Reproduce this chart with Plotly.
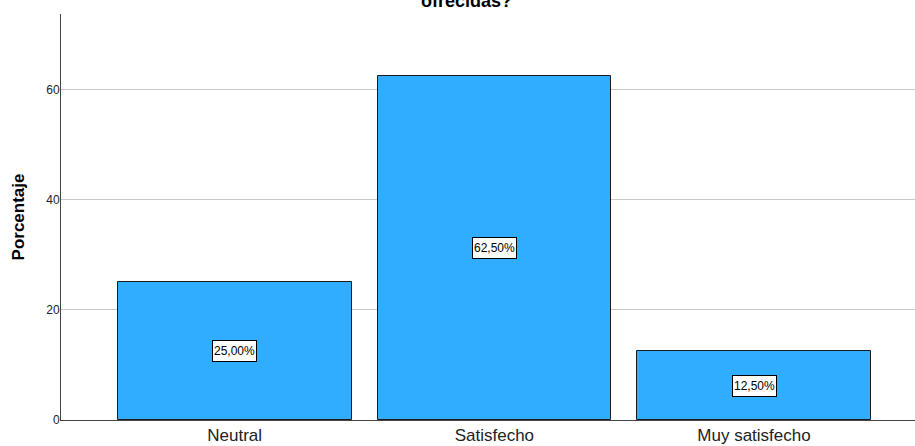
import plotly.graph_objects as go

categories = ["Neutral", "Satisfecho", "Muy satisfecho"]
percentages = [25.0, 62.5, 12.5]
y_ticks = [0, 20, 40, 60]

bar_color = "#31ADFF"

fig = go.Figure()
fig.add_trace(go.Bar(
    x=list(range(len(categories))),
    y=percentages,
    width=0.9,
    marker=dict(color=bar_color, line=dict(color="#1a1a1a", width=1)),
    hoverinfo="skip",
))

# boxed value labels at the middle of each bar
for i, v in enumerate(percentages):
    fig.add_annotation(
        x=i, y=v / 2, xref="x", yref="y",
        text=f"{v:.2f}%".replace(".", ","),
        showarrow=False,
        font=dict(family="Arial", size=12, color="black"),
        width=41, height=18,
        bgcolor="white", bordercolor="black", borderwidth=1, borderpad=1,
    )

# title, mostly above the visible area
fig.add_annotation(
    x=0.475, y=1.0, xref="paper", yref="paper",
    xanchor="center", yanchor="bottom", yshift=1,
    text="<b>ofrecidas?</b>", showarrow=False,
    font=dict(family="Arial", size=18, color="black"),
)

fig.update_layout(
    width=915, height=446,
    margin=dict(l=61, r=0, t=14, b=26),
    paper_bgcolor="white", plot_bgcolor="white",
    showlegend=False,
    bargap=0,
)
fig.update_xaxes(
    range=[-0.669, 2.62],
    tickvals=list(range(len(categories))), ticktext=categories,
    tickfont=dict(family="Arial", size=17, color="#222"),
    showline=True, linecolor="#444", linewidth=1,
    showgrid=False, ticks="", zeroline=False,
)
fig.update_yaxes(
    range=[0, 73.8],
    tickvals=y_ticks,
    tickfont=dict(family="Arial", size=12, color="#222"),
    ticklabelstandoff=-2,
    showline=True, linecolor="#444", linewidth=1,
    showgrid=True, gridcolor="#c8c8c8", gridwidth=1,
    ticks="", ticklen=0, zeroline=False,
    title=dict(text="<b>Porcentaje</b>", font=dict(family="Arial", size=17, color="black"), standoff=17),
)

fig.write_html("out.html")
